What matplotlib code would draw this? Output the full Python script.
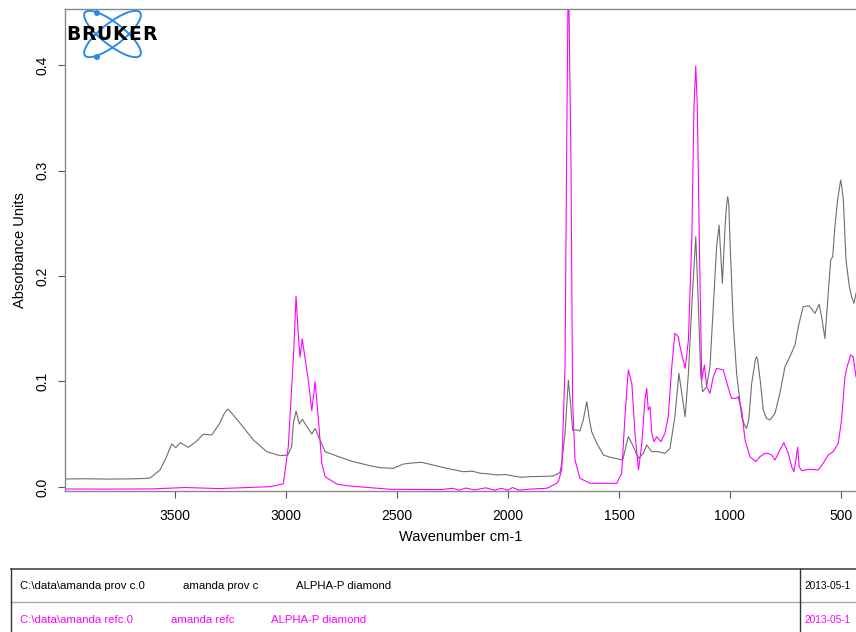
import numpy as np
import matplotlib
matplotlib.use("Agg")
import matplotlib.pyplot as plt
from matplotlib.patches import Ellipse, Circle
from matplotlib.lines import Line2D

plt.rcParams['font.family'] = ['Liberation Sans', 'DejaVu Sans']

# espectro gris (amanda prov c)
wn_prov = [3996, 3900, 3800, 3700, 3644, 3613, 3568, 3540, 3515, 3497, 3477, 3440,
           3400, 3373, 3335, 3300, 3280, 3263, 3245, 3207, 3147, 3087, 3027, 2992, 2975, 2967,
           2955, 2940, 2927, 2884, 2869, 2847, 2824, 2772, 2697, 2622, 2576, 2517,
           2471, 2430, 2389, 2351, 2276, 2201, 2160, 2126, 2090, 2051, 2010, 1976,
           1940, 1901, 1850, 1796, 1766, 1758, 1743, 1728, 1717, 1709, 1691, 1676,
           1661, 1645, 1633, 1623, 1600, 1570, 1540, 1483, 1458, 1442, 1412, 1390,
           1375, 1352, 1323, 1293, 1270, 1248, 1230, 1217, 1202, 1187, 1172, 1154,
           1142, 1132, 1123, 1105, 1090, 1075, 1060, 1049, 1034, 1022, 1016, 1010, 1005, 1000,
           985, 970, 947, 935, 925, 915, 902, 885, 880, 875, 862, 850, 835, 820, 797, 775, 752, 730, 707,
           692, 670, 643, 617, 598, 587, 572, 557, 546, 537, 527, 515, 505, 501, 497, 489,
           477, 462, 452, 441, 432]
ab_prov = [0.0076, 0.0078, 0.0075, 0.0077, 0.0080, 0.0085, 0.0161, 0.0280, 0.0408, 0.0373, 0.0420, 0.0376,
           0.0440, 0.0500, 0.0493, 0.0600, 0.0690, 0.0739, 0.0700, 0.0604, 0.0445, 0.0335, 0.0297, 0.0303, 0.0380, 0.0604,
           0.0720, 0.0597, 0.0642, 0.0502, 0.0556, 0.0445, 0.0335, 0.0294, 0.0240, 0.0202, 0.0183, 0.0177,
           0.0218, 0.0228, 0.0234, 0.0215, 0.0177, 0.0145, 0.0150, 0.0130, 0.0125, 0.0114, 0.0118, 0.0104,
           0.0092, 0.0098, 0.0100, 0.0104, 0.0136, 0.0225, 0.0509, 0.1014, 0.0761, 0.0540, 0.0540, 0.0531,
           0.0635, 0.0809, 0.0635, 0.0524, 0.0414, 0.0303, 0.0282, 0.0256, 0.0477, 0.0414, 0.0272, 0.0319,
           0.0398, 0.0335, 0.0335, 0.0319, 0.0367, 0.0666, 0.1078, 0.0888, 0.0666, 0.1078, 0.1709, 0.2373,
           0.1709, 0.1078, 0.0903, 0.0951, 0.1140, 0.1709, 0.2278, 0.2483, 0.1931, 0.2467, 0.2660, 0.2752, 0.2680, 0.2341,
           0.1552, 0.1078, 0.0666, 0.0590, 0.0556, 0.0640, 0.0983, 0.1210, 0.1235, 0.1205, 0.0983, 0.0730, 0.0650, 0.0635, 0.0699, 0.0888, 0.1140, 0.1235, 0.1346,
           0.1519, 0.1709, 0.1718, 0.1646, 0.1732, 0.1614, 0.1409, 0.1836, 0.2152, 0.2183, 0.2467, 0.2720, 0.2860, 0.2910, 0.2860, 0.2720,
           0.2152, 0.1899, 0.1804, 0.1741, 0.1836]

# espectro rosa (amanda refc)
wn_refc = [3996, 3800, 3600, 3455, 3300, 3072, 3012, 2990, 2965, 2955, 2945, 2937, 2927, 2900,
           2884, 2869, 2854, 2839, 2824, 2772, 2726, 2531, 2300, 2250, 2220, 2190,
           2150, 2100, 2060, 2030, 2000, 1980, 1950, 1900, 1825, 1780, 1772, 1758,
           1743, 1735, 1728, 1716, 1709, 1698, 1676, 1630, 1510, 1488, 1473, 1458,
           1442, 1428, 1412, 1397, 1383, 1375, 1368, 1360, 1352, 1342, 1330, 1311,
           1293, 1278, 1262, 1248, 1233, 1225, 1202, 1187, 1172, 1162, 1154, 1147,
           1138, 1127, 1115, 1105, 1090, 1075, 1060, 1030, 1009, 993, 970, 963,
           947, 932, 910, 883, 865, 842, 827, 812, 797, 775, 757, 737, 722, 712,
           703, 695, 688, 677, 640, 602, 580, 557, 535, 512, 497, 482, 472, 456,
           445, 432]
ab_refc = [-0.0019, -0.0020, -0.0018, -0.0005, -0.0015, 0.0003, 0.0030, 0.0382, 0.1300, 0.1810, 0.1450, 0.1229, 0.1403, 0.1014,
           0.0723, 0.0998, 0.0635, 0.0225, 0.0098, 0.0028, 0.0012, -0.0022, -0.0025, -0.0012, -0.0030, -0.0010,
           -0.0028, -0.0008, -0.0030, -0.0012, -0.0032, -0.0005, -0.0030, -0.0020, -0.0012, 0.0035, 0.0060, 0.0161,
           0.1140, 0.3355, 0.5000, 0.3036, 0.0825, 0.0256, 0.0082, 0.0035, 0.0035, 0.0130, 0.0666, 0.1109,
           0.0983, 0.0509, 0.0161, 0.0414, 0.0825, 0.0936, 0.0730, 0.0761, 0.0509, 0.0429, 0.0477, 0.0429,
           0.0509, 0.0666, 0.1140, 0.1457, 0.1425, 0.1330, 0.1125, 0.1393, 0.2341, 0.3605, 0.3991, 0.3605,
           0.2341, 0.1014, 0.1156, 0.0951, 0.0888, 0.1045, 0.1125, 0.1109, 0.0951, 0.0841, 0.0841, 0.0856,
           0.0730, 0.0445, 0.0287, 0.0240, 0.0287, 0.0319, 0.0319, 0.0303, 0.0256, 0.0351, 0.0420, 0.0319, 0.0192, 0.0145,
           0.0256, 0.0376, 0.0192, 0.0155, 0.0168, 0.0161, 0.0225, 0.0303, 0.0335, 0.0414, 0.0635, 0.1045, 0.1140, 0.1251,
           0.1235, 0.1045]

x_ticks = [3500, 3000, 2500, 2000, 1500, 1000, 500]
y_ticks = [0.0, 0.1, 0.2, 0.3, 0.4]

filas = [
    ["C:\\data\\amanda prov c.0", "amanda prov c", "ALPHA-P diamond"],
    ["C:\\data\\amanda refc.0", "amanda refc", "ALPHA-P diamond"],
]
fechas = ["2013-05-1", "2013-05-1"]
colores = ["black", "#ff00ff"]

W, H = 856, 632
fig = plt.figure(figsize=(W / 100, H / 100), dpi=100)

ax = fig.add_axes([65 / W, 1 - 491 / H, (W - 65) / W, (491 - 9) / H])
ax.plot(wn_prov, ab_prov, color="#6e6e6e", lw=0.8)
ax.plot(wn_refc, ab_refc, color="#ff00ff", lw=0.8)
ax.set_xlim(3996, 432)
ax.set_ylim(-0.0038, 0.4531)
ax.set_xticks(x_ticks)
ax.set_yticks(y_ticks)
ax.set_yticklabels([f"{v:.1f}" for v in y_ticks], rotation=90, va="center")
ax.tick_params(length=5, color="#555555", labelsize=10, width=0.8)
ax.tick_params(axis="x", pad=8)
ax.tick_params(axis="y", pad=6)
ax.spines["right"].set_visible(False)
for s in ["left", "bottom", "top"]:
    ax.spines[s].set_color("#888888")
    ax.spines[s].set_linewidth(1.0)
ax.set_xlabel("Wavenumber cm-1", fontsize=10.5, labelpad=5)
ax.set_ylabel("Absorbance Units", fontsize=10.5, labelpad=6)

# logo
lg = fig.add_axes([0, 1 - 70 / H, 170 / W, 70 / H])
lg.set_xlim(0, 170)
lg.set_ylim(70, 0)
lg.axis("off")
azul = "#2a8be6"
lg.add_patch(Ellipse((112.5, 34), 70, 22, angle=38, fill=False, ec=azul, lw=1.4))
lg.add_patch(Ellipse((112.5, 34), 70, 22, angle=-38, fill=False, ec=azul, lw=1.4))
lg.add_patch(Circle((97, 13), 2.3, color=azul))
lg.add_patch(Circle((97, 57), 2.3, color=azul))
for i, letra in enumerate("BRUKER"):
    lg.text(73.5 + 15.2 * i, 35, letra, fontsize=13.5, fontweight="bold",
            ha="center", va="center", color="black", family="DejaVu Sans")

# tabla
def px(x, y):
    return x / W, 1 - y / H

fig.add_artist(Line2D([11 / W, 1], [1 - 569 / H] * 2, color="#555555", lw=1.3))
fig.add_artist(Line2D([11 / W, 1], [1 - 601.5 / H] * 2, color="#aaaaaa", lw=1.0))
fig.add_artist(Line2D([11 / W] * 2, [1 - 569 / H, 0], color="#333333", lw=1.0))
fig.add_artist(Line2D([800 / W] * 2, [1 - 569 / H, 0], color="#333333", lw=1.0))

cols = [[20, 183, 296], [20, 171, 271]]
ys = [586, 620]
for fila, fecha, c, xs, yy in zip(filas, fechas, colores, cols, ys):
    for t, xx in zip(fila, xs):
        fig.text(*px(xx, yy), t, color=c, fontsize=8.2, va="center", ha="left")
    fig.text(*px(804, yy), fecha, color=c, fontsize=7.3, va="center", ha="left")

fig.savefig("out.png", dpi=100)
